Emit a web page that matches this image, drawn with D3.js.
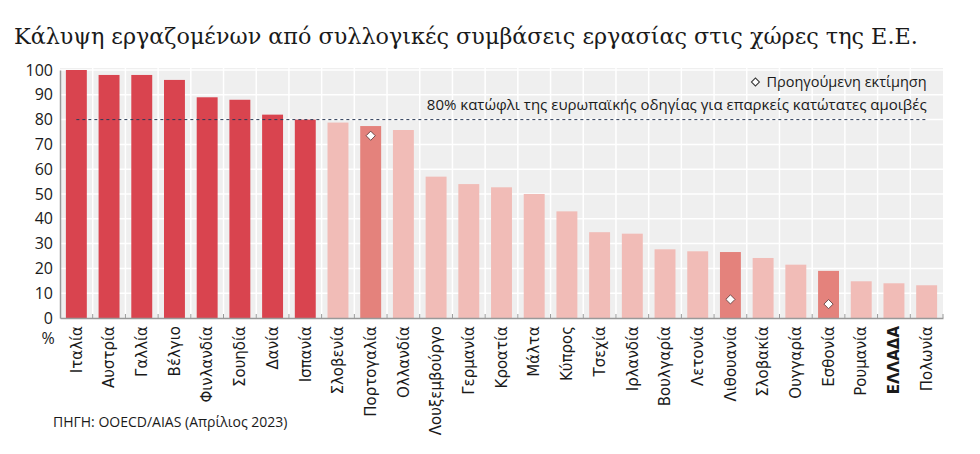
<!DOCTYPE html>
<html>
<head>
<meta charset="utf-8">
<script src="https://cdn.jsdelivr.net/npm/d3@7"></script>
<style>
  body { margin: 0; background: #ffffff; }
  text { font-family: "Open Sans", "Noto Sans", sans-serif; fill: #1a1a1a; }
</style>
</head>
<body>
<div id="chart"></div>
<script>
/* DATA */
const countries = ["Ιταλία", "Αυστρία", "Γαλλία", "Βέλγιο", "Φινλανδία", "Σουηδία", "Δανία", "Ισπανία",
  "Σλοβενία", "Πορτογαλία", "Ολλανδία", "Λουξεμβούργο", "Γερμανία", "Κροατία", "Μάλτα", "Κύπρος",
  "Τσεχία", "Ιρλανδία", "Βουλγαρία", "Λετονία", "Λιθουανία", "Σλοβακία", "Ουγγαρία", "Εσθονία",
  "Ρουμανία", "ΕΛΛΑΔΑ", "Πολωνία"];
const coverage = [100, 98, 98, 96, 89, 88, 82, 80, 78.8, 77.4, 75.8, 57, 54, 52.7, 50, 43,
  34.6, 34, 27.7, 26.9, 26.6, 24.2, 21.5, 19, 14.8, 14, 13.2];
// previous estimates (only for some countries)
const previous = [
  { country: "Πορτογαλία", value: 73.5 },
  { country: "Λιθουανία", value: 7.5 },
  { country: "Εσθονία", value: 5.6 }
];
const yTicks = [0, 10, 20, 30, 40, 50, 60, 70, 80, 90, 100];
const threshold = 80;

const data = countries.map((c, i) => ({ country: c, value: coverage[i] }));

/* CONSTANTS */
const width = 980, height = 454;
const margin = { top: 70, right: 37, bottom: 136, left: 60 };

const svg = d3.select("#chart")
  .append("svg")
  .attr("width", width)
  .attr("height", height);

/* SCALES */
const xScale = d3.scaleBand()
  .domain(countries)
  .range([margin.left, width - margin.right])
  .paddingInner(0.36)
  .paddingOuter(0.18);

const step = xScale.step();

const yScale = d3.scaleLinear()
  .domain([0, 100])
  .range([height - margin.bottom, margin.top]);

/* TITLE */
const title = svg.append("text")
  .attr("x", 14)
  .attr("y", 44)
  .style("font-family", "'DejaVu Serif', serif")
  .style("font-size", "20px")
  .text("Κάλυψη εργαζομένων από συλλογικές συμβάσεις εργασίας στις χώρες της Ε.Ε.");
// fit title to the same width as in the original
const tw = title.node().getComputedTextLength();
title.style("font-size", (20 * 904 / tw) + "px");

/* BACKGROUND + GRID */
svg.append("rect")
  .attr("x", margin.left)
  .attr("y", yScale(100) - 2)
  .attr("width", width - margin.right - margin.left)
  .attr("height", yScale(0) - yScale(100) + 2)
  .attr("fill", "#efefef");

svg.append("g")
  .selectAll("line")
  .data(yTicks.slice(1))
  .join("line")
  .attr("x1", margin.left)
  .attr("x2", width - margin.right)
  .attr("y1", d => yScale(d))
  .attr("y2", d => yScale(d))
  .attr("stroke", "#ffffff")
  .attr("stroke-width", 1.5);

const boundaries = countries.slice(1).map(c => xScale(c) - step * xScale.paddingInner() / 2);

svg.append("g")
  .selectAll("line")
  .data(boundaries)
  .join("line")
  .attr("x1", d => d)
  .attr("x2", d => d)
  .attr("y1", yScale(100) - 2)
  .attr("y2", yScale(0))
  .attr("stroke", "#ffffff")
  .attr("stroke-width", 1.5);

/* BARS */
const dark = new Set(countries.slice(0, 8));
const mid = new Set(previous.map(d => d.country));

svg.append("g")
  .selectAll("rect")
  .data(data)
  .join("rect")
  .attr("x", d => xScale(d.country))
  .attr("width", xScale.bandwidth())
  .attr("y", d => yScale(d.value))
  .attr("height", d => yScale(0) - yScale(d.value))
  .attr("fill", d => dark.has(d.country) ? "#d9444f" : mid.has(d.country) ? "#e4827c" : "#f1bcb7");

/* PREVIOUS ESTIMATES */
svg.append("g")
  .selectAll("path")
  .data(previous)
  .join("path")
  .attr("transform", d => `translate(${xScale(d.country) + xScale.bandwidth() / 2},${yScale(d.value)}) rotate(45)`)
  .attr("d", d3.symbol(d3.symbolSquare, 42))
  .attr("fill", "#ffffff")
  .attr("stroke", "#5a3a3a")
  .attr("stroke-width", 0.8);

/* THRESHOLD LINE */
const xFirst = xScale(countries[0]) + xScale.bandwidth() / 2;
const xLast = xScale(countries[countries.length - 1]) + xScale.bandwidth() / 2;

svg.append("line")
  .attr("x1", xFirst)
  .attr("x2", xLast)
  .attr("y1", yScale(threshold))
  .attr("y2", yScale(threshold))
  .attr("stroke", "#2b3a55")
  .attr("stroke-width", 1)
  .attr("stroke-dasharray", "3,3");

svg.append("text")
  .attr("x", xLast)
  .attr("y", yScale(threshold) - 10)
  .attr("text-anchor", "end")
  .style("font-size", "15px")
  .text("80% κατώφλι της ευρωπαϊκής οδηγίας για επαρκείς κατώτατες αμοιβές");

/* LEGEND */
const legend = svg.append("g");
const legText = legend.append("text")
  .attr("x", xLast)
  .attr("y", 87)
  .attr("text-anchor", "end")
  .style("font-size", "14.5px")
  .text("Προηγούμενη εκτίμηση");

const lw = legText.node().getComputedTextLength();
legend.append("path")
  .attr("transform", `translate(${xLast - lw - 11},82) rotate(45)`)
  .attr("d", d3.symbol(d3.symbolSquare, 32))
  .attr("fill", "#ffffff")
  .attr("stroke", "#333333")
  .attr("stroke-width", 1);

/* AXES */
const yAxis = svg.append("g")
  .attr("transform", `translate(${margin.left},0)`)
  .call(d3.axisLeft(yScale).tickValues(yTicks).tickSize(0).tickPadding(7));
yAxis.select(".domain").attr("stroke", "#999999").attr("stroke-width", 1.5);
yAxis.selectAll("text").style("font-size", "16px").attr("fill", "#1a1a1a");

svg.append("text")
  .attr("x", 48)
  .attr("y", 344)
  .attr("text-anchor", "middle")
  .style("font-size", "16px")
  .text("%");

const xAxis = svg.append("g")
  .attr("transform", `translate(0,${yScale(0)})`)
  .call(d3.axisBottom(xScale).tickSize(0).tickPadding(8));
xAxis.select(".domain").attr("stroke", "#999999").attr("stroke-width", 1.5);
xAxis.selectAll("text")
  .attr("transform", "rotate(-90)")
  .attr("text-anchor", "end")
  .attr("dy", "0.35em")
  .attr("x", -8)
  .attr("y", 0)
  .style("font-size", "15px")
  .style("font-family", "'DejaVu Sans', sans-serif")
  .style("font-weight", d => d === "ΕΛΛΑΔΑ" ? "bold" : "normal")
  .attr("fill", "#1a1a1a");

// small ticks between bars
svg.append("g")
  .selectAll("line")
  .data(boundaries.concat([width - margin.right]))
  .join("line")
  .attr("x1", d => d)
  .attr("x2", d => d)
  .attr("y1", yScale(0))
  .attr("y2", yScale(0) - 4)
  .attr("stroke", "#999999")
  .attr("stroke-width", 1);

/* SOURCE */
svg.append("text")
  .attr("x", 53)
  .attr("y", 427)
  .style("font-size", "14px")
  .text("ΠΗΓΗ: OOECD/AIAS (Απρίλιος 2023)");
</script>
</body>
</html>
